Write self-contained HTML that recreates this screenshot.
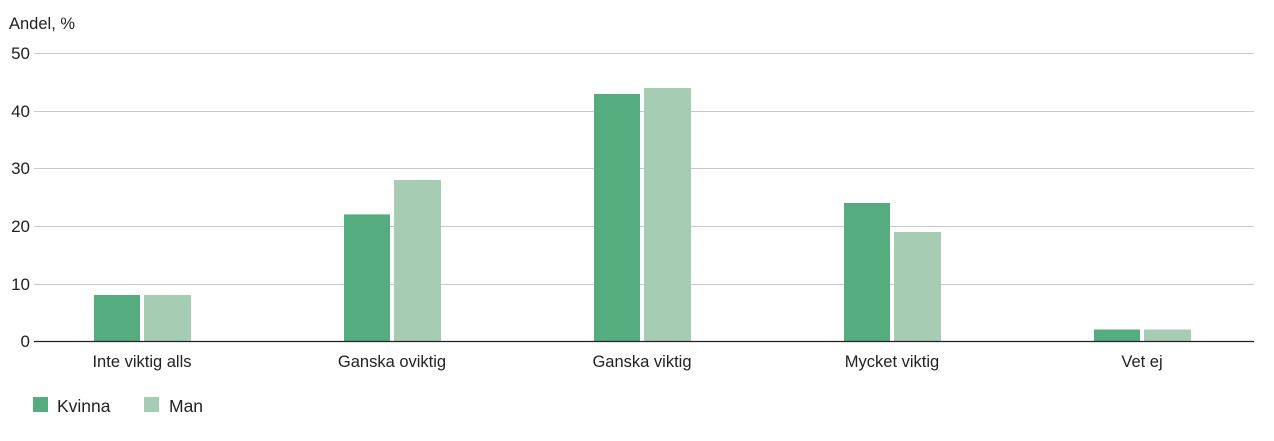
<!DOCTYPE html><html><head><meta charset="utf-8"><style>body{margin:0;background:#fff}svg{display:block}text{font-family:"Liberation Sans",sans-serif;fill:#222}</style></head><body>
<svg width="1274" height="441" viewBox="0 0 1274 441">
<text x="9" y="29" font-size="16.5">Andel, %</text>
<g stroke="#c8c8c8" stroke-width="1">
<line x1="34" x2="1254" y1="53.5" y2="53.5"/><line x1="34" x2="1254" y1="111.5" y2="111.5"/><line x1="34" x2="1254" y1="168.5" y2="168.5"/><line x1="34" x2="1254" y1="226.5" y2="226.5"/><line x1="34" x2="1254" y1="284.5" y2="284.5"/>
</g>
<g font-size="17" text-anchor="end">
<text x="30" y="59">50</text><text x="30" y="117">40</text><text x="30" y="174">30</text><text x="30" y="232">20</text><text x="30" y="290">10</text><text x="30" y="347">0</text>
</g>
<g fill="#55ad7f">
<rect x="94" y="295" width="46" height="46"/><rect x="344" y="214.4" width="46" height="126.6"/><rect x="594" y="94" width="46" height="247"/><rect x="844" y="203" width="46" height="138"/><rect x="1094" y="329.5" width="46" height="11.5"/>
</g>
<g fill="#a6cdb3">
<rect x="144" y="295" width="47" height="46"/><rect x="394" y="180" width="47" height="161"/><rect x="644" y="88" width="47" height="253"/><rect x="894" y="232" width="47" height="109"/><rect x="1144" y="329.5" width="47" height="11.5"/>
</g>
<line x1="34" x2="1254" y1="341.5" y2="341.5" stroke="#222" stroke-width="1.3"/>
<g font-size="16.5" text-anchor="middle">
<text x="142" y="367">Inte viktig alls</text><text x="392" y="367">Ganska oviktig</text><text x="642" y="367">Ganska viktig</text><text x="892" y="367">Mycket viktig</text><text x="1142" y="367">Vet ej</text>
</g>
<rect x="33" y="397" width="15" height="15" fill="#55ad7f"/><text x="57" y="412" font-size="17.5">Kvinna</text>
<rect x="144" y="397" width="15" height="15" fill="#a6cdb3"/><text x="169" y="412" font-size="17.5">Man</text>
</svg></body></html>
